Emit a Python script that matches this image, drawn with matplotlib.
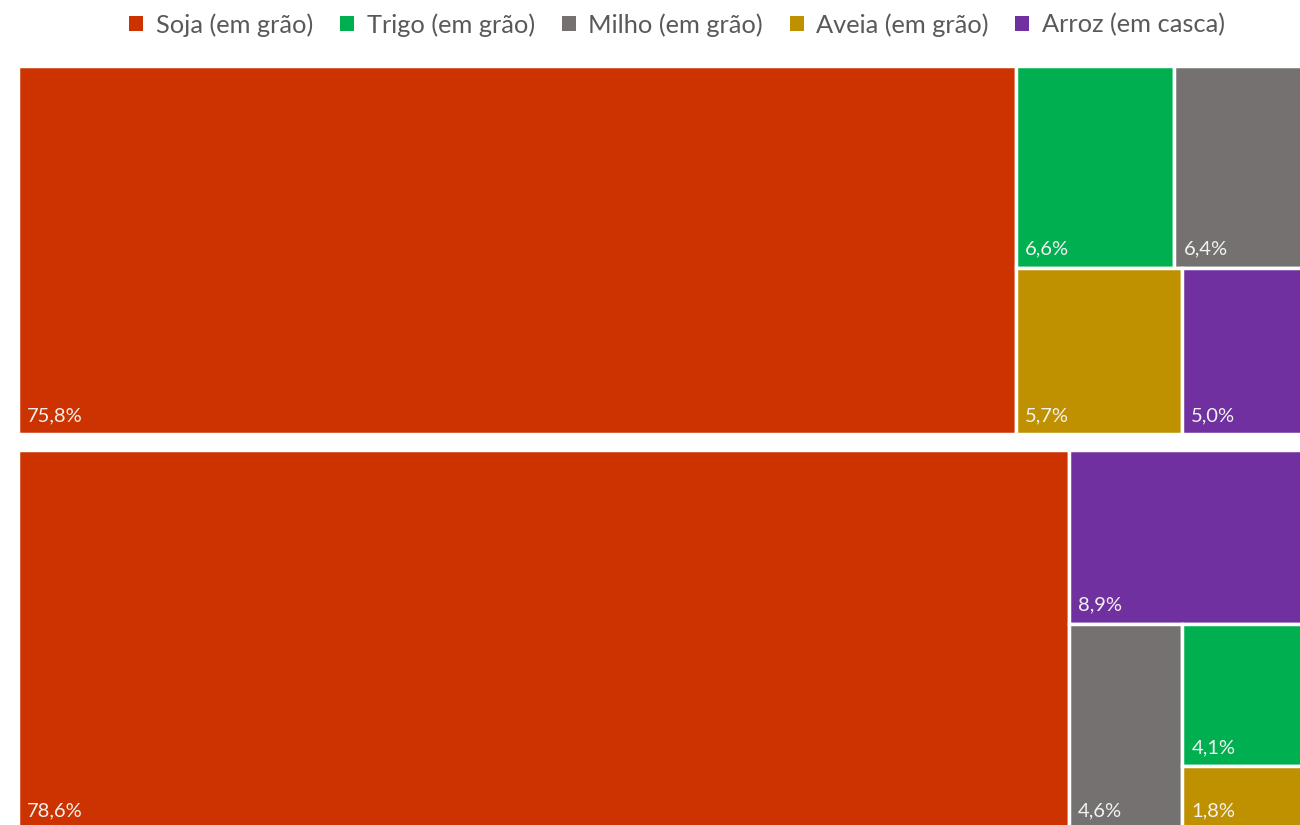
import matplotlib
matplotlib.use('Agg')
import matplotlib.pyplot as plt
from matplotlib.patches import Rectangle, Patch

plt.rcParams['font.family'] = ['Lato', 'DejaVu Sans']

categories = ['Soja (em grão)', 'Trigo (em grão)', 'Milho (em grão)', 'Aveia (em grão)', 'Arroz (em casca)']
colors = ['#CC3300', '#00B050', '#767171', '#BF9000', '#7030A0']

# share of each crop (%) in the two groups
top_values = [75.8, 6.6, 6.4, 5.7, 5.0]
bottom_values = [78.6, 4.1, 4.6, 1.8, 8.9]

# how each group is split (indices into categories); 'h' = side by side, 'v' = stacked
top_tree = ('h', [0, ('v', [('h', [1, 2]), ('h', [3, 4])])])
bottom_tree = ('h', [0, ('v', [4, ('h', [2, ('v', [1, 3])])])])


def total(node, vals):
    if isinstance(node, int):
        return vals[node]
    return sum(total(n, vals) for n in node[1])


def layout(node, vals, x, y, w, h, out):
    if isinstance(node, int):
        out.append((node, x, y, w, h))
        return
    direction, kids = node
    s = total(node, vals)
    pos = 0.0
    for k in kids:
        f = total(k, vals) / s
        if direction == 'h':
            layout(k, vals, x + pos * w, y, f * w, h, out)
        else:
            layout(k, vals, x, y + pos * h, w, f * h, out)
        pos += f


fig = plt.figure(figsize=(13, 8.25), dpi=100)
ax = fig.add_axes([0, 0, 1, 1])
ax.set_xlim(0, 1300)
ax.set_ylim(825, 0)
ax.axis('off')

groups = [(top_tree, top_values, (18, 66, 1310, 368)),
          (bottom_tree, bottom_values, (18, 450, 1310, 379))]

for tree, vals, (gx, gy, gw, gh) in groups:
    tiles = []
    layout(tree, vals, gx, gy, gw, gh, tiles)
    for i, x, y, w, h in tiles:
        ax.add_patch(Rectangle((x, y), w, h, facecolor=colors[i],
                               edgecolor='white', linewidth=2.5))
        ax.text(x + 9, y + h - 13, f'{vals[i]:.1f}'.replace('.', ',') + '%',
                color='#F2F2F2', fontsize=14.5, ha='left', va='baseline')

handles = [Patch(facecolor=c, edgecolor='none') for c in colors]
fig.legend(handles, categories, loc='upper center', bbox_to_anchor=(0.521, 1.012),
           ncol=5, frameon=False, fontsize=18.3, handlelength=0.55, handleheight=0.55,
           handletextpad=0.5, columnspacing=1.05, labelcolor='#595959')

fig.savefig('out.png', dpi=100)
